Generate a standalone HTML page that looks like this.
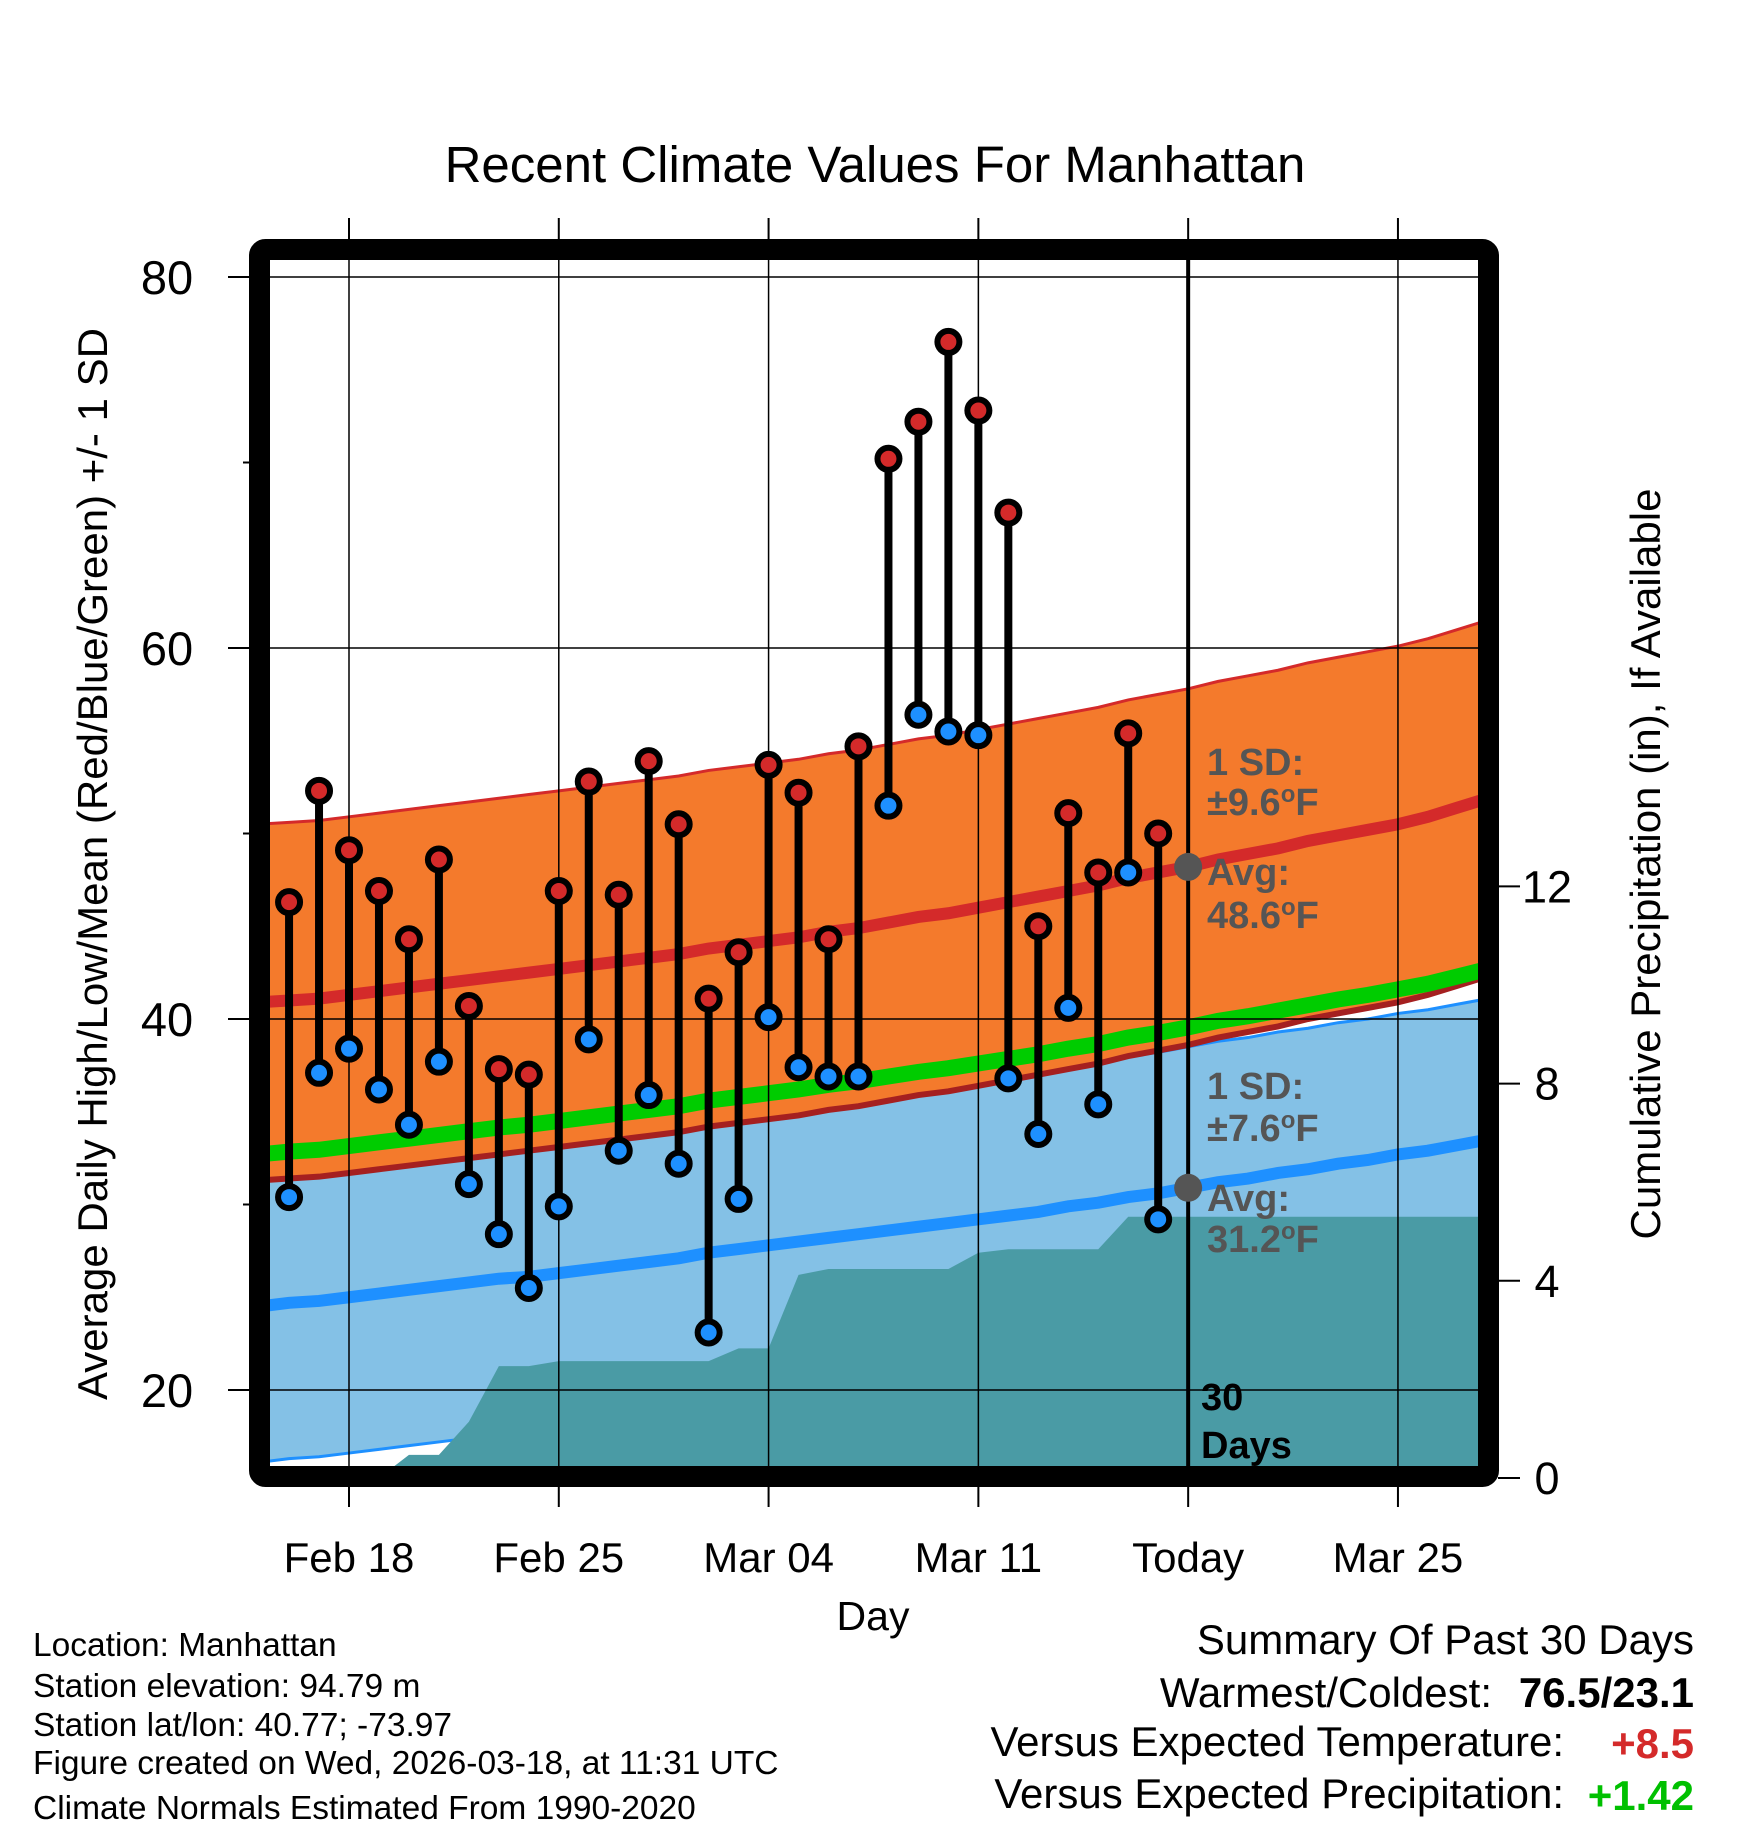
<!DOCTYPE html>
<html><head><meta charset="utf-8"><style>
html,body{margin:0;padding:0;background:#fff;}
svg{display:block;font-family:"Liberation Sans",Arial,sans-serif;}
</style></head><body>
<svg id="chart" width="1748" height="1828" viewBox="0 0 1748 1828" xmlns="http://www.w3.org/2000/svg">
<defs><clipPath id="plotclip"><rect x="270" y="260" width="1208" height="1206"/></clipPath></defs>
<text x="875" y="182" font-size="51" text-anchor="middle">Recent Climate Values For Manhattan</text>
<g id="plot" clip-path="url(#plotclip)"></g>
<rect x="259.5" y="249.5" width="1229" height="1227" rx="6" fill="none" stroke="#000" stroke-width="21"/>
<g id="axes"></g>
<text x="873" y="1630" font-size="41" text-anchor="middle">Day</text>
<text transform="translate(107,864) rotate(-90)" font-size="42" text-anchor="middle">Average Daily High/Low/Mean (Red/Blue/Green) +/- 1 SD</text>
<text transform="translate(1660,864) rotate(-90)" font-size="42" text-anchor="middle">Cumulative Precipitation (in), If Available</text>
<g font-size="33.5">
<text x="33" y="1656">Location: Manhattan</text>
<text x="33" y="1697">Station elevation: 94.79 m</text>
<text x="33" y="1736">Station lat/lon: 40.77; -73.97</text>
<text x="33" y="1774">Figure created on Wed, 2026-03-18, at 11:31 UTC</text>
<text x="33" y="1819">Climate Normals Estimated From 1990-2020</text>
</g>
<g font-size="42">
<text x="1694" y="1654" text-anchor="end">Summary Of Past 30 Days</text>
<text x="1492" y="1707" text-anchor="end">Warmest/Coldest:</text>
<text x="1694" y="1707" text-anchor="end" font-weight="bold">76.5/23.1</text>
<text x="1564" y="1756" text-anchor="end">Versus Expected Temperature:</text>
<text x="1694" y="1758" text-anchor="end" font-weight="bold" fill="#d42a2a">+8.5</text>
<text x="1564" y="1808" text-anchor="end">Versus Expected Precipitation:</text>
<text x="1694" y="1810" text-anchor="end" font-weight="bold" fill="#00c000">+1.42</text>
</g>
</svg>
<script>
// observed data, Feb 16 .. Mar 17 (day index 1..30, day 0 = Feb 15)
const obsDays = [1,2,3,4,5,6,7,8,9,10,11,12,13,14,15,16,17,18,19,20,21,22,23,24,25,26,27,28,29,30];
const highs = [46.3,52.3,49.1,46.9,44.3,48.6,40.7,37.3,37.0,46.9,52.8,46.7,53.9,50.5,41.1,43.6,53.7,52.2,44.3,54.7,70.2,72.2,76.5,72.8,67.3,45.0,51.1,47.9,55.4,50.0];
const lows = [30.4,37.1,38.4,36.2,34.3,37.7,31.1,28.4,25.5,29.9,38.9,32.9,35.9,32.2,23.1,30.3,40.1,37.4,36.9,36.9,51.5,56.4,55.5,55.3,36.8,33.8,40.6,35.4,47.9,29.2];
const precip = [0,0,0,0,0.47,0.47,1.14,2.27,2.27,2.37,2.37,2.37,2.37,2.37,2.37,2.63,2.63,4.12,4.24,4.24,4.24,4.24,4.24,4.57,4.64,4.64,4.64,4.64,5.30,5.30];
// normals, day index 0..41 (Feb 15 .. Mar 28)
const normHigh = [40.9,41.0,41.1,41.3,41.5,41.7,41.9,42.1,42.3,42.5,42.7,42.9,43.1,43.3,43.5,43.8,44.0,44.2,44.4,44.7,44.9,45.2,45.5,45.7,46.0,46.3,46.6,46.9,47.2,47.6,47.9,48.2,48.6,48.9,49.2,49.6,49.9,50.2,50.5,50.9,51.4,51.9];
const normLow = [24.5,24.7,24.8,25.0,25.2,25.4,25.6,25.8,26.0,26.1,26.3,26.5,26.7,26.9,27.1,27.4,27.6,27.8,28.0,28.2,28.4,28.6,28.8,29.0,29.2,29.4,29.6,29.9,30.1,30.4,30.6,30.9,31.2,31.4,31.7,31.9,32.2,32.4,32.7,32.9,33.2,33.5];
const sdHigh = [9.6];
const sdLow = [7.6];
const xTickDays = [3,10,17,24,31,38];
const xTickLabels = ["Feb 18","Feb 25","Mar 04","Mar 11","Today","Mar 25"];
const yTicks = [20,40,60,80];
const yMinor = [30,50,70];
const y2Ticks = [0,4,8,12];
const todayDay = [31];

const NS="http://www.w3.org/2000/svg";
const X = d => 349 + (d-3)*29.97;
const Y = t => 277 + (80-t)*18.55;
const YP = p => 1478 - p*49.3;
function mk(parent,tag,attrs){const e=document.createElementNS(NS,tag);for(const k in attrs)e.setAttribute(k,attrs[k]);parent.appendChild(e);return e;}
const plot=document.getElementById('plot');
const axes=document.getElementById('axes');
const nd = normHigh.map((_,i)=>i);
function bandPath(up,lo){let s='M'+nd.map(i=>X(i)+','+Y(up[i])).join(' L');s+=' L'+nd.slice().reverse().map(i=>X(i)+','+Y(lo[i])).join(' L')+' Z';return s;}
function linePath(arr){return 'M'+nd.map(i=>X(i)+','+Y(arr[i])).join(' L');}
const lowUp=normLow.map(v=>v+sdLow[0]), lowDn=normLow.map(v=>v-sdLow[0]-0.8);
const hiUp=normHigh.map(v=>v+sdHigh[0]), hiDn=normHigh.map(v=>v-sdHigh[0]);
const mean=normHigh.map((v,i)=>(v+normLow[i])/2);
let e;
e=mk(plot,'path',{d:bandPath(lowUp,lowDn),fill:'#84c1e6'});


e=mk(plot,'path',{d:linePath(lowUp),fill:'none',stroke:'#1e90ff','stroke-width':3});


e=mk(plot,'path',{d:linePath(lowDn),fill:'none',stroke:'#1e90ff','stroke-width':3});


e=mk(plot,'path',{d:bandPath(hiUp,hiDn),fill:'#f47a2c'});


e=mk(plot,'path',{d:linePath(hiUp),fill:'none',stroke:'#d42a2a','stroke-width':3});


e=mk(plot,'path',{d:linePath(hiDn),fill:'none',stroke:'#a52020','stroke-width':6});


e=mk(plot,'path',{d:linePath(mean),fill:'none',stroke:'#00cc00','stroke-width':16});


// precip area
let pd='M'+X(obsDays[0])+','+YP(0);
obsDays.forEach((d,i)=>{pd+=' L'+X(d)+','+YP(precip[i]);});
pd+=' L1490,'+YP(precip[precip.length-1])+' L1490,'+YP(0)+' Z';
e=mk(plot,'path',{d:pd,fill:'#4a9ba5'});


e=mk(plot,'path',{d:linePath(normLow),fill:'none',stroke:'#1e90ff','stroke-width':12});


e=mk(plot,'path',{d:linePath(normHigh),fill:'none',stroke:'#d42a2a','stroke-width':12});


// gridlines
yTicks.forEach(t=>{e=mk(plot,'line',{x1:260,x2:1490,y1:Y(t),y2:Y(t),stroke:'#000','stroke-width':1.5});

});
xTickDays.forEach((d,i)=>{if(xTickLabels[i]==='Today')return;e=mk(plot,'line',{x1:X(d),x2:X(d),y1:250,y2:1480,stroke:'#000','stroke-width':1.5});

});
// today line
e=mk(plot,'line',{x1:X(todayDay[0]),x2:X(todayDay[0]),y1:250,y2:1480,stroke:'#000','stroke-width':4});


// stems and points
obsDays.forEach((d,i)=>{
 e=mk(plot,'line',{x1:X(d),x2:X(d),y1:Y(highs[i]),y2:Y(lows[i]),stroke:'#000','stroke-width':8});
 
 
});
obsDays.forEach((d,i)=>{
 e=mk(plot,'circle',{cx:X(d),cy:Y(highs[i]),r:11,fill:'#d42a2a',stroke:'#000','stroke-width':6});
 
 
 e=mk(plot,'circle',{cx:X(d),cy:Y(lows[i]),r:11,fill:'#1e90ff',stroke:'#000','stroke-width':6});
 
 
});
const ti=todayDay[0];
e=mk(plot,'circle',{cx:X(ti),cy:Y(normHigh[ti]),r:14,fill:'#555'});


e=mk(plot,'circle',{cx:X(ti),cy:Y(normLow[ti]),r:14,fill:'#555'});


// annotations
const ann=[["1 SD:",775,"#555",1207],["±9.6°F",815,"#555",1207],["Avg:",885,"#555",1207],["48.6°F",928,"#555",1207],["1 SD:",1099,"#555",1207],["±7.6°F",1141,"#555",1207],["Avg:",1211,"#555",1207],["31.2°F",1252,"#555",1207],["30",1410,"#000",1201],["Days",1458,"#000",1201]];
ann.forEach(a=>{e=mk(plot,'text',{x:a[3],y:a[1],'font-size':38,'font-weight':'bold',fill:a[2]});e.textContent=a[0].replace('°F','');
 if(a[0].includes('°F')){const ts=mk(e,'tspan',{'baseline-shift':'super','font-size':24});ts.textContent='o';const t2=mk(e,'tspan',{});t2.textContent='F';}
 
 });
// axes ticks and labels
yTicks.forEach(t=>{mk(axes,'line',{x1:228,x2:250,y1:Y(t),y2:Y(t),stroke:'#000','stroke-width':2});
 e=mk(axes,'text',{x:167,y:Y(t)+17,'font-size':47,'text-anchor':'middle'});e.textContent=t;
 
 });
yMinor.forEach(t=>{mk(axes,'line',{x1:243,x2:250,y1:Y(t),y2:Y(t),stroke:'#000','stroke-width':2});});
y2Ticks.forEach(p=>{mk(axes,'line',{x1:1498,x2:1520,y1:YP(p),y2:YP(p),stroke:'#000','stroke-width':2});
 e=mk(axes,'text',{x:1547,y:YP(p)+16,'font-size':45,'text-anchor':'middle'});e.textContent=p;
 
 });
xTickDays.forEach((d,i)=>{mk(axes,'line',{x1:X(d),x2:X(d),y1:218,y2:250,stroke:'#000','stroke-width':2});
 mk(axes,'line',{x1:X(d),x2:X(d),y1:1486,y2:1507,stroke:'#000','stroke-width':2});
 e=mk(axes,'text',{x:X(d),y:1572,'font-size':42,'text-anchor':'middle'});e.textContent=xTickLabels[i];
 
 });
</script>
</body></html>
